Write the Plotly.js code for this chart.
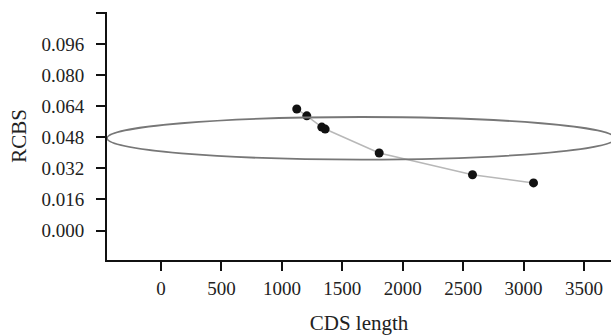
<!DOCTYPE html>
<html>
<head>
<meta charset="utf-8">
<script src="https://cdn.plot.ly/plotly-3.0.1.min.js"></script>
<style>
  html, body { margin: 0; padding: 0; background: #fff; }
  #chart { width: 611px; height: 336px; }
</style>
</head>
<body>
<div id="chart"></div>
<script>
// Data
const cdsLength = [1123, 1206, 1330, 1358, 1805, 2577, 3082];
const rcbs      = [0.0625, 0.0590, 0.0532, 0.0522, 0.0399, 0.0287, 0.0245];

const yTickVals  = [0.000, 0.016, 0.032, 0.048, 0.064, 0.080, 0.096, 0.112];
const yTickText  = ['0.000', '0.016', '0.032', '0.048', '0.064', '0.080', '0.096', ''];
const xTickVals  = [0, 500, 1000, 1500, 2000, 2500, 3000, 3500];
const xTickText  = ['0', '500', '1000', '1500', '2000', '2500', '3000', '3500'];

// Highlight ellipse extent (data units)
const ellipseX = [-447, 3760];
const ellipseY = [0.0365, 0.0584];

const font = 'Liberation Serif, Times New Roman, serif';

const trace = {
  x: cdsLength,
  y: rcbs,
  type: 'scatter',
  mode: 'lines+markers',
  line: { color: '#b8b8b8', width: 1.5 },
  marker: { color: '#111', size: 9, symbol: 'circle' },
  hoverinfo: 'skip'
};

const layout = {
  width: 611,
  height: 336,
  margin: { l: 107, r: 0, t: 12, b: 75.5 },
  paper_bgcolor: '#fff',
  plot_bgcolor: '#fff',
  showlegend: false,
  font: { family: font, color: '#222', size: 19 },
  xaxis: {
    range: [-447, 3723],
    tickmode: 'array',
    tickvals: xTickVals,
    ticktext: xTickText,
    ticks: 'outside',
    ticklen: 9,
    tickwidth: 2,
    tickcolor: '#111',
    showline: true,
    linecolor: '#111',
    linewidth: 2,
    showgrid: false,
    zeroline: false,
    ticklabelstandoff: 1,
    tickfont: { family: font, size: 19, color: '#222' },
    title: { text: 'CDS length', font: { family: font, size: 21, color: '#222' }, standoff: 18 }
  },
  yaxis: {
    range: [-0.01514, 0.1124],
    tickmode: 'array',
    tickvals: yTickVals,
    ticktext: yTickText,
    ticks: 'outside',
    ticklen: 9,
    tickwidth: 2,
    tickcolor: '#111',
    showline: true,
    linecolor: '#111',
    linewidth: 2,
    showgrid: false,
    zeroline: false,
    ticklabelstandoff: 8,
    tickfont: { family: font, size: 19, color: '#222' },
    title: { text: 'RCBS', font: { family: font, size: 21, color: '#222' }, standoff: 9 }
  },
  shapes: [{
    type: 'circle',
    xref: 'x', yref: 'y',
    x0: ellipseX[0], x1: ellipseX[1],
    y0: ellipseY[0], y1: ellipseY[1],
    line: { color: '#777', width: 1.8 },
    layer: 'above'
  }]
};

Plotly.newPlot('chart', [trace], layout, { displayModeBar: false, staticPlot: true });
</script>
</body>
</html>
